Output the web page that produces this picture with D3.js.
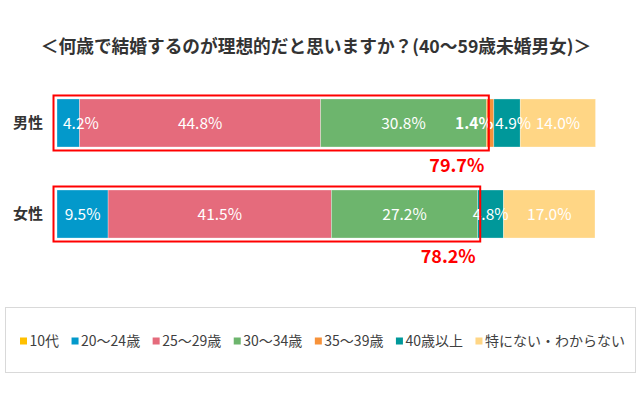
<!DOCTYPE html>
<html>
<head>
<meta charset="utf-8">
<script src="https://cdn.jsdelivr.net/npm/d3@7"></script>
<style>
  body { margin: 0; background: #fff; }
  text { font-family: "Noto Sans CJK JP", "Noto Sans", sans-serif; }
</style>
</head>
<body>
<script>
// データ
const categories = ["男性", "女性"];
const ageGroups = ["10代", "20〜24歳", "25〜29歳", "30〜34歳", "35〜39歳", "40歳以上", "特にない・わからない"];
const maleValues = [0, 4.2, 44.8, 30.8, 1.4, 4.9, 14.0];
const femaleValues = [0, 9.5, 41.5, 27.2, 0, 4.8, 17.0];
const idealTotals = [79.7, 78.2];   // 20〜34歳の合計
const idealCount = 4;               // 囲みに入る区分の数 (10代〜30〜34歳)
const colors = ["#FFC000", "#0399CB", "#E56B7C", "#6DB56D", "#F7923A", "#00989A", "#FFD685"];

const WIDTH = 640;
const HEIGHT = 395;

const svg = d3.select("body")
  .append("svg")
  .attr("width", WIDTH)
  .attr("height", HEIGHT);

// タイトル
svg.append("text")
  .attr("x", 316)
  .attr("y", 53)
  .attr("text-anchor", "middle")
  .attr("font-size", 17.7)
  .attr("font-weight", "bold")
  .attr("fill", "#333")
  .text("＜何歳で結婚するのが理想的だと思いますか？(40〜59歳未婚男女)＞");

// スケール
const escalaX = d3.scaleLinear()
  .domain([0, 100])
  .range([57, 595]);

const escalaY = d3.scaleBand()
  .domain(categories)
  .range([77.5, 259.5])
  .paddingInner(0.4725)
  .paddingOuter(0.236);

const ejeY = d3.axisLeft(escalaY).tickSize(0).tickPadding(14);
const gEje = svg.append("g")
  .attr("transform", `translate(${escalaX(0)},0)`)
  .call(ejeY);
gEje.select(".domain").remove();
gEje.selectAll("text")
  .attr("font-size", 15)
  .attr("font-weight", "bold")
  .attr("fill", "#333");

const allValues = [maleValues, femaleValues];

// 積み上げデータ
const rows = categories.map((cat, i) => {
  let acc = 0;
  return allValues[i].map((v, j) => {
    const seg = { cat, idx: j, value: v, x0: acc, x1: acc + v, prev: j > 0 ? allValues[i][j - 1] : 0 };
    acc += v;
    return seg;
  });
});

const filas = svg.selectAll("g.fila")
  .data(rows)
  .enter()
  .append("g")
  .attr("class", "fila");

filas.selectAll("rect")
  .data(d => d)
  .enter()
  .append("rect")
  .attr("x", d => escalaX(d.x0))
  .attr("y", d => escalaY(d.cat))
  .attr("width", d => escalaX(d.x1) - escalaX(d.x0))
  .attr("height", escalaY.bandwidth())
  .attr("fill", d => colors[d.idx])
  .attr("stroke", "#fff")
  .attr("stroke-opacity", 0.5)
  .attr("stroke-width", 0.6);

// ラベル位置 (狭い区分は寄せる)
function labelX(d) {
  const w = escalaX(d.x1) - escalaX(d.x0);
  if (d.idx === 4) return escalaX(d.x1) - 0.5;
  if (d.idx === 5 && d.prev > 0) return escalaX(d.x0) + 1.5;
  if (d.idx === 1 && w < 30) return escalaX(d.x0) + 6;
  return (escalaX(d.x0) + escalaX(d.x1)) / 2;
}
function labelAnchor(d) {
  const w = escalaX(d.x1) - escalaX(d.x0);
  if (d.idx === 4) return "end";
  if (d.idx === 5 && d.prev > 0) return "start";
  if (d.idx === 1 && w < 30) return "start";
  return "middle";
}

filas.selectAll("text")
  .data(d => d.filter(s => s.value > 0))
  .enter()
  .append("text")
  .attr("x", labelX)
  .attr("y", d => escalaY(d.cat) + escalaY.bandwidth() / 2)
  .attr("dy", "0.36em")
  .attr("text-anchor", labelAnchor)
  .attr("font-size", 15.5)
  .attr("font-weight", d => d.idx === 4 ? "bold" : "normal")
  .attr("fill", "#fff")
  .text(d => d.value.toFixed(1) + "%");

// 赤枠と合計
rows.forEach((row, i) => {
  const end = escalaX(row[idealCount - 1].x1);
  const y = escalaY(row[0].cat);
  svg.append("rect")
    .attr("x", escalaX(0) - 3.5)
    .attr("y", y - 3.5)
    .attr("width", end + 2.5 - (escalaX(0) - 3.5))
    .attr("height", escalaY.bandwidth() + 7)
    .attr("fill", "none")
    .attr("stroke", "#FF0000")
    .attr("stroke-width", 2);
  svg.append("text")
    .attr("x", end - 2)
    .attr("y", y + escalaY.bandwidth() + 25)
    .attr("text-anchor", "end")
    .attr("font-size", 18)
    .attr("font-weight", "bold")
    .attr("fill", "#FF0000")
    .text(idealTotals[i].toFixed(1) + "%");
});

// 凡例
svg.append("rect")
  .attr("x", 5.5)
  .attr("y", 307.5)
  .attr("width", 630)
  .attr("height", 65)
  .attr("fill", "#fff")
  .attr("stroke", "#D9D9D9")
  .attr("stroke-width", 1);

const leyenda = svg.append("g");
let lx = 20;
ageGroups.forEach((g, i) => {
  leyenda.append("rect")
    .attr("x", lx)
    .attr("y", 337.5)
    .attr("width", 7)
    .attr("height", 7)
    .attr("fill", colors[i]);
  const t = leyenda.append("text")
    .attr("x", lx + 9.5)
    .attr("y", 341)
    .attr("dy", "0.36em")
    .attr("font-size", 14)
    .attr("fill", "#404040")
    .text(g);
  lx += 9.5 + t.node().getComputedTextLength() + 12.5;
});
</script>
</body>
</html>
